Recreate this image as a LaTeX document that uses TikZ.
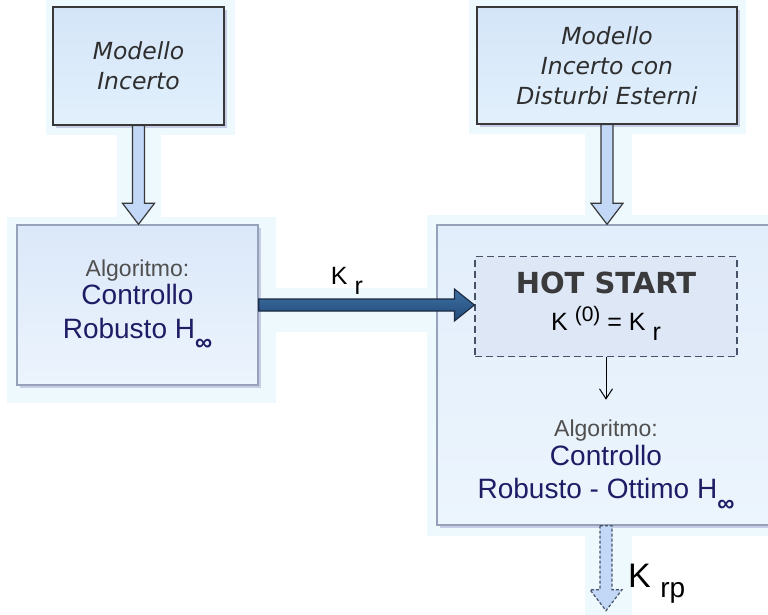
\documentclass[tikz,border=0pt]{standalone}
\usepackage{fontspec}
\setmainfont{Liberation Sans}
\newfontfamily\modelfont{DejaVu Sans}
\usetikzlibrary{arrows.meta, calc, shadows, backgrounds}

\definecolor{navytext}{RGB}{30,28,100}
\definecolor{graytext}{RGB}{80,80,80}
\definecolor{hotgray}{RGB}{58,58,60}
\definecolor{boxtop}{RGB}{212,229,248}
\definecolor{boxbot}{RGB}{226,240,252}
\definecolor{algtop}{RGB}{219,232,249}
\definecolor{algbot}{RGB}{236,244,253}
\definecolor{bigtop}{RGB}{226,238,251}
\definecolor{bigbot}{RGB}{236,245,253}
\definecolor{hotfill}{RGB}{221,231,245}
\definecolor{haze}{RGB}{238,249,253}
\definecolor{paleblue}{RGB}{194,216,246}
\definecolor{steeltop}{RGB}{62,112,164}
\definecolor{steelbot}{RGB}{34,74,120}
\definecolor{steeledge}{RGB}{28,42,66}
\definecolor{framecol}{RGB}{150,162,186}
\definecolor{dashcol}{RGB}{70,82,104}
\definecolor{shadowcol}{RGB}{198,205,228}

\newcommand{\Hinf}{H\raisebox{-12.5pt}{\fontsize{24}{24}\selectfont\bfseries ∞}}

% block arrows: shaft from #2, head ending at #3
\newcommand{\blockdown}[3][]{%
  \draw[#1] ($(#2)+(-6,0)$) -- ($(#3)+(-6,-21)$) -- ($(#3)+(-16,-21)$) -- (#3)
    -- ($(#3)+(16,-21)$) -- ($(#3)+(6,-21)$) -- ($(#2)+(6,0)$) -- cycle;}
\newcommand{\blockright}[3][]{%
  \draw[#1] ($(#2)+(0,-6)$) -- ($(#3)+(-20,-6)$) -- ($(#3)+(-20,-16)$) -- (#3)
    -- ($(#3)+(-20,16)$) -- ($(#3)+(-20,6)$) -- ($(#2)+(0,6)$) -- cycle;}

\begin{document}
\begin{tikzpicture}[x=1pt, y=-1pt,
    boxshadow/.style={drop shadow={shadow xshift=3pt, shadow yshift=-3pt, fill=shadowcol, opacity=1}},
    modelbox/.style={draw=black!78, line width=1.2pt, top color=boxtop, bottom color=boxbot,
      boxshadow, align=center, text=black!82, font=\modelfont\itshape\fontsize{23.5}{30}\selectfont},
    algbox/.style={draw=framecol, line width=1.4pt, top color=algtop, bottom color=algbot,
      boxshadow, align=center, text=navytext, font=\fontsize{28}{34}\selectfont},
    bigbox/.style={draw=framecol, line width=1.4pt, top color=bigtop, bottom color=bigbot, boxshadow},
    hotbox/.style={draw=dashcol, line width=1.2pt, dash pattern=on 7pt off 4pt, fill=hotfill,
      align=center, text=black, font=\fontsize{25}{30}\selectfont},
    algtext/.style={align=center, text=navytext, font=\fontsize{28}{33}\selectfont},
    hollow/.style={draw=black!78, line width=1.2pt, fill=paleblue},
    solid blue/.style={draw=steeledge, line width=1.2pt, top color=steeltop, bottom color=steelbot},
    dashed hollow/.style={draw=dashcol, line width=1.2pt, dash pattern=on 3pt off 2pt, fill=paleblue}]

  \useasboundingbox (0,0) rectangle (768,615);

  \node[modelbox, minimum width=171pt, minimum height=118pt] (mod1) at (138.5,66) {Modello\\Incerto};
  \node[modelbox, minimum width=260pt, minimum height=117pt] (mod2) at (607,65.5)
    {Modello\\Incerto con\\Disturbi Esterni};

  \node[algbox, minimum width=241pt, minimum height=160pt] (alg1) at (137.5,305)
    {{\color{graytext}\fontsize{23}{26}\selectfont Algoritmo:}\\[-6pt]Controllo\\Robusto \Hinf};

  \node[bigbox, minimum width=333pt, minimum height=300pt] (big) at (603.5,375) {};
  \node[hotbox, minimum width=262pt, minimum height=100pt] (hot) at (606,306.5)
    {{\color{hotgray}\modelfont\bfseries\fontsize{29}{30}\selectfont HOT START}\\[7pt]
     K \raisebox{9pt}{\fontsize{21}{21}\selectfont(0)} = K \raisebox{-10pt}{r}};
  \node[algtext, inner ysep=20pt] (opt) at (606,465.5)
    {{\color{graytext}\fontsize{23}{26}\selectfont Algoritmo:}\\[-4pt]Controllo\\Robusto - Ottimo \Hinf};

  \coordinate (tip1) at (mod1.south |- alg1.north);
  \coordinate (tip2) at (mod2.south |- big.north);
  \coordinate (tip3) at (hot.west |- alg1.east);
  \coordinate (kbase) at (hot.south |- big.south);
  \coordinate (kend) at ($(kbase)+(0,85)$);

  \blockdown[hollow]{mod1.south}{tip1}
  \blockdown[hollow]{mod2.south}{tip2}
  \blockright[solid blue]{alg1.east}{tip3}
  \blockdown[dashed hollow]{kbase}{kend}
  \draw[-{Straight Barb[length=10pt, width=13pt]}, line width=1pt] (hot.south) -- (opt.north);

  \node[anchor=base west, inner sep=0pt, font=\fontsize{25}{25}\selectfont] (kr)
    at ($(alg1.east)+(72,-21)$) {K \raisebox{-10pt}{r}};
  \node[anchor=base west, inner sep=0pt, font=\fontsize{34}{34}\selectfont] (krp)
    at ($(kend)+(22,-23)$) {K \raisebox{-10pt}{\fontsize{28}{28}\selectfont rp}};

  \begin{scope}[on background layer]
    \fill[haze] ($(mod1.north west)+(-6,-7)$) rectangle ($(mod1.south east)+(10,9)$);
    \fill[haze] ($(mod1.south)+(-22,9)$) rectangle ($(tip1)+(22,-5)$);
    \fill[haze] ($(alg1.north west)+(-9,-7)$) rectangle ($(alg1.south east)+(17,17)$);
    \fill[haze] ($(mod2.north west)+(-7,-7)$) rectangle ($(mod2.south east)+(8,9)$);
    \fill[haze] ($(mod2.south)+(-22,9)$) rectangle ($(tip2)+(25,-5)$);
    \fill[haze] ($(alg1.east)+(17,-17)$) rectangle ($(tip3)+(-38,27)$);
    \fill[haze] ($(big.north west)+(-9,-9)$) rectangle ($(big.south east)+(0,10)$);
    \fill[haze] ($(kbase)+(-21,0)$) rectangle ($(kend)+(26,5)$);
  \end{scope}
\end{tikzpicture}
\end{document}
